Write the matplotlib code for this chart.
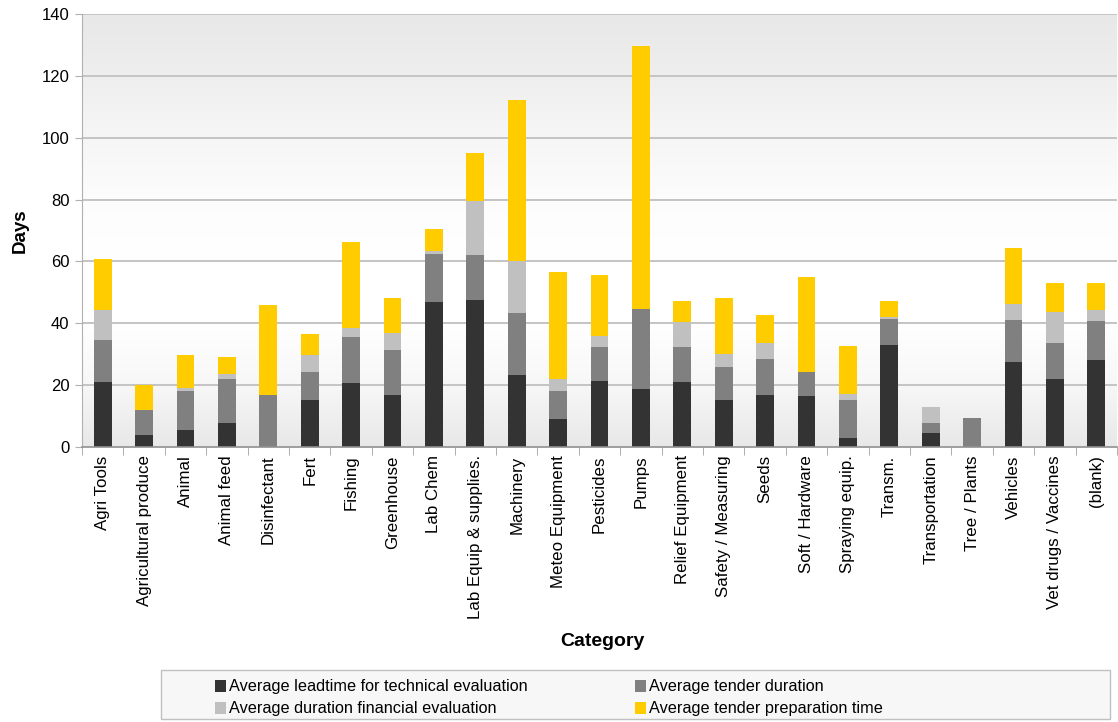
import matplotlib
matplotlib.use("Agg")
import matplotlib.pyplot as plt
import numpy as np
from matplotlib.patches import Rectangle

plt.rcParams['font.family'] = ['Liberation Sans', 'DejaVu Sans']

categories = ["Agri Tools", "Agricultural produce", "Animal", "Animal feed", "Disinfectant",
              "Fert", "Fishing", "Greenhouse", "Lab Chem", "Lab Equip & supplies.",
              "Machinery", "Meteo Equipment", "Pesticides", "Pumps", "Relief Equipment",
              "Safety / Measuring", "Seeds", "Soft / Hardware", "Spraying equip.", "Transm.",
              "Transportation", "Tree / Plants", "Vehicles", "Vet drugs / Vaccines", "(blank)"]

tech_eval = [21.0, 3.9, 5.5, 7.8, 0.0, 15.2, 20.7, 16.8, 46.9, 47.6, 23.3, 9.1, 21.4,
             18.8, 21.0, 15.2, 16.8, 16.5, 2.9, 33.0, 4.5, 0.0, 27.5, 22.0, 28.1]
tender_duration = [13.6, 8.1, 12.6, 14.2, 16.8, 9.1, 14.9, 14.6, 15.5, 14.5, 20.1, 9.0, 11.0,
                   25.8, 11.4, 10.7, 11.7, 7.8, 12.3, 8.4, 3.3, 9.4, 13.6, 11.6, 12.7]
fin_eval = [9.8, 0.0, 1.1, 1.6, 0.0, 5.5, 3.0, 5.3, 1.0, 17.3, 16.8, 3.9, 3.6,
            0.0, 8.1, 4.3, 5.1, 0.0, 1.9, 0.5, 5.1, 0.0, 5.2, 10.2, 3.5]
prep_time = [16.4, 8.1, 10.6, 5.5, 29.1, 6.8, 27.7, 11.5, 7.1, 15.7, 52.1, 34.6, 19.6,
             85.1, 6.7, 18.0, 9.1, 30.7, 15.6, 5.3, 0.0, 0.0, 18.1, 9.3, 8.8]

series_names = ["Average leadtime for technical evaluation", "Average tender duration",
                "Average duration financial evaluation", "Average tender preparation time"]
series = [tech_eval, tender_duration, fin_eval, prep_time]
colors = ["#333333", "#808080", "#c0c0c0", "#ffcc00"]
yticks = [0, 20, 40, 60, 80, 100, 120, 140]

W, H = 1118, 722
fig = plt.figure(figsize=(W / 100, H / 100), dpi=100)
L, R, T, B = 82, 1117, 14, 447
ax = fig.add_axes([L / W, 1 - B / H, (R - L) / W, (B - T) / H])

n = len(categories)
x = np.arange(n)
ax.set_xlim(-0.5, n - 0.5)
ax.set_ylim(0, 140)

# background gradient
vals = np.array([0.91, 0.935, 0.965, 0.99, 1.0, 1.0, 0.97, 0.91])
pos = np.linspace(0, 1, len(vals))
yy = np.linspace(0, 1, 300)
g = np.interp(yy, pos, vals[::-1])[::-1]
img = np.repeat(g[:, None], 2, axis=1)
img = np.dstack([img, img, img])
ax.imshow(img, extent=[-0.5, n - 0.5, 0, 140], aspect='auto', zorder=0, origin='upper')

for yv in yticks[1:]:
    ax.axhline(yv, color="#c4c4c4", lw=1.4, zorder=1)

bottom = np.zeros(n)
for vals_s, c in zip(series, colors):
    v = np.array(vals_s)
    ax.bar(x, v, width=0.43, bottom=bottom, color=c, edgecolor='none', zorder=2)
    bottom += v

for s in ['top', 'right']:
    ax.spines[s].set_visible(False)
ax.spines['left'].set_color("#b0b0b0")
ax.spines['bottom'].set_color("#909090")
ax.spines['bottom'].set_linewidth(1.2)

ax.set_yticks(yticks)
ax.set_yticklabels([str(v) for v in yticks], fontsize=12)
ax.tick_params(axis='y', length=5, color="#b0b0b0", pad=4)

ax.set_xticks(x)
ax.set_xticklabels(categories, rotation=90, fontsize=12.2, va='top', ha='center')
ax.tick_params(axis='x', length=0, pad=6)
ax.set_xticks(np.arange(n + 1) - 0.5, minor=True)
ax.tick_params(axis='x', which='minor', length=6, color="#a0a0a0")

ax.set_ylabel("Days", fontsize=13.5, fontweight='bold', labelpad=9)
fig.text(602 / W, 1 - 641 / H, "Category", fontsize=14, fontweight='bold',
         ha='center', va='center')

# legend
lx0, lx1, ly0, ly1 = 161, 1110, 670, 719
fig.patches.append(Rectangle((lx0 / W, 1 - ly1 / H), (lx1 - lx0) / W, (ly1 - ly0) / H,
                             transform=fig.transFigure, facecolor="#f7f7f7",
                             edgecolor="#c0c0c0", lw=1))
col_x = [215, 635]
row_y = [686, 708]
for i, (name, c) in enumerate(zip(series_names, colors)):
    cx = col_x[i % 2]
    cy = row_y[i // 2]
    fig.patches.append(Rectangle((cx / W, 1 - (cy + 6) / H), 11 / W, 12 / H,
                                 transform=fig.transFigure, facecolor=c, edgecolor='none'))
    fig.text((cx + 14) / W, 1 - cy / H, name, fontsize=11.7,
             ha='left', va='center')

fig.savefig("out.png", dpi=100)
